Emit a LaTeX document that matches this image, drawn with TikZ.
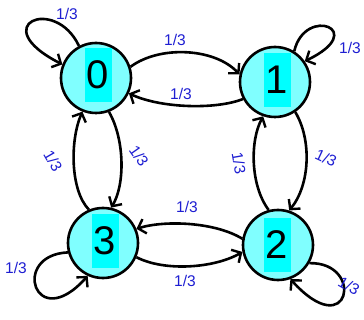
\documentclass[tikz,border=0pt]{standalone}
\usepackage{fontspec}
\setmainfont{Liberation Sans}
\usetikzlibrary{arrows.meta}
\definecolor{lightcy}{RGB}{128,255,255}
\definecolor{deepcy}{RGB}{0,255,255}
\definecolor{penblue}{RGB}{30,30,210}
\tikzset{
  state/.style={circle,draw=black,line width=2.6pt,fill=lightcy,minimum size=70pt,inner sep=0pt},
  digitbox/.style={rectangle,fill=deepcy,minimum width=27pt,minimum height=54pt,inner sep=0pt,font=\fontsize{40}{40}\selectfont},
  edge/.style={line width=2.6pt,-{Straight Barb[length=7pt,width=15pt,line width=2.4pt]}},
  prob/.style={text=penblue,font=\fontsize{15.5}{15.5}\selectfont,inner sep=0pt}
}
\begin{document}
\begin{tikzpicture}[x=1pt,y=-1pt]
\useasboundingbox (0,0) rectangle (364,320);
\node[state] (n0) at (96,78) {};
\node[state] (n1) at (275,82) {};
\node[state] (n3) at (103,243) {};
\node[state] (n2) at (278,245) {};
\node[digitbox] (d0) at (98,75) {0};
\node[digitbox] (d1) at (277,80) {1};
\node[digitbox] (d3) at (105,241) {3};
\node[digitbox] (d2) at (277,245) {2};
% self loops
\draw[edge] (n0.118) .. controls (55,-5) and (-15,25) .. (n0.158);
\draw[edge] (n1.58) .. controls (305,5) and (370,30) .. (n1.35);
\draw[edge] (n3.195) .. controls (10,255) and (35,335) .. (n3.245);
\draw[edge] (n2.-30) .. controls (365,262) and (350,345) .. (n2.-70);
% horizontal pairs
\draw[edge] (n0.18) .. controls (160,45) and (215,48) .. (n1.168);
\draw[edge] (n1.208) .. controls (215,110) and (160,108) .. (n0.-25);
\draw[edge] (n2.170) .. controls (215,222) and (165,220) .. (n3.23);
\draw[edge] (n3.-23) .. controls (165,272) and (215,268) .. (n2.191);
% vertical pairs
\draw[edge] (n0.-69) .. controls (125,140) and (125,185) .. (n3.77);
\draw[edge] (n3.113) .. controls (70,190) and (70,140) .. (n0.-112);
\draw[edge] (n1.-56) .. controls (312,140) and (310,185) .. (n2.72);
\draw[edge] (n2.105) .. controls (250,185) and (250,140) .. (n1.-109);
% labels
\node[prob] (l00) at (67,14) {1/3};
\node[prob] (l01) at (175,40) {1/3};
\node[prob] (l10) at (181,94) {1/3};
\node[prob] (l11) at (350,48) {1/3};
\node[prob,rotate=-60] (l30) at (53,161) {1/3};
\node[prob,rotate=-55] (l03) at (139,156) {1/3};
\node[prob,rotate=-80] (l21) at (239,163) {1/3};
\node[prob,rotate=-25] (l12) at (326,158) {1/3};
\node[prob] (l23) at (187,207) {1/3};
\node[prob] (l32) at (185,281) {1/3};
\node[prob] (l33) at (16,268) {1/3};
\node[prob,rotate=-30] (l22) at (349,286) {1/3};
\end{tikzpicture}
\end{document}
